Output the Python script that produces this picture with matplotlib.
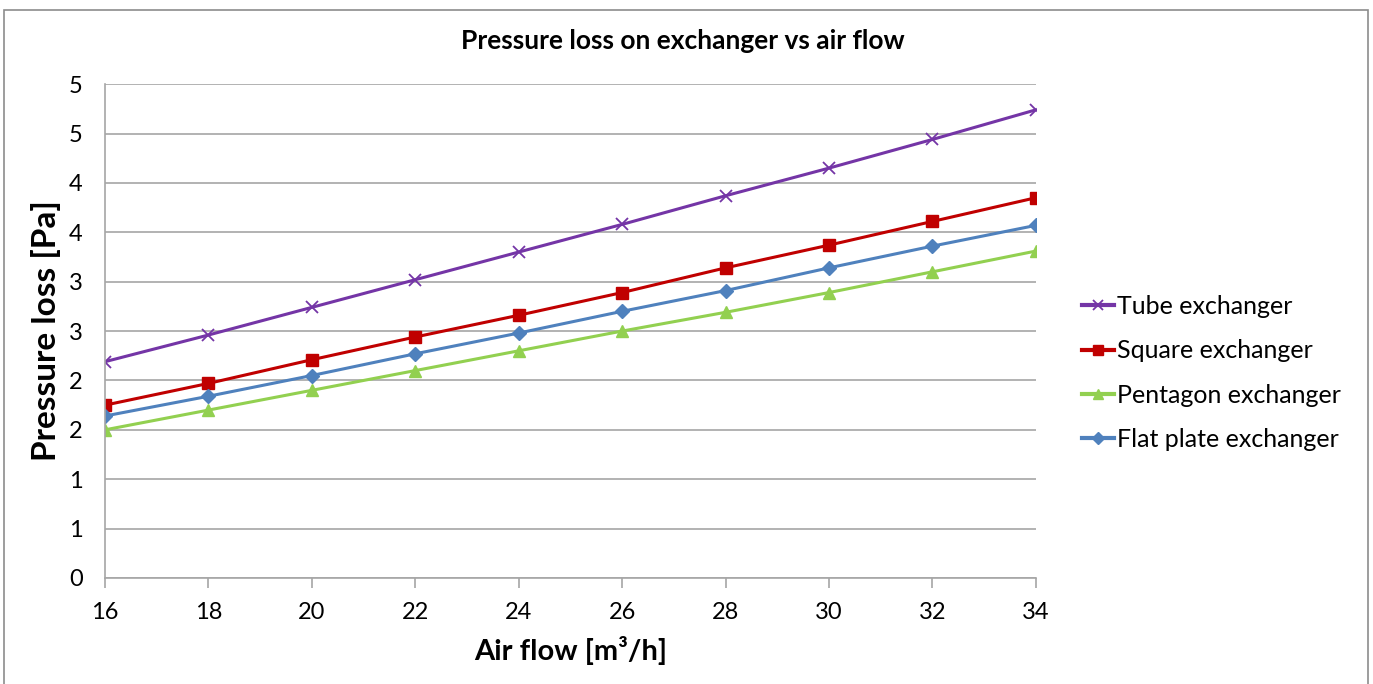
import numpy as np
import matplotlib.pyplot as plt
from matplotlib.ticker import FuncFormatter, MultipleLocator
from matplotlib.patches import Rectangle

plt.rcParams['font.family'] = ['Lato', 'DejaVu Sans']

# data
air_flow = [16, 18, 20, 22, 24, 26, 28, 30, 32, 34]
tube = [2.19, 2.46, 2.74, 3.02, 3.30, 3.58, 3.87, 4.15, 4.44, 4.74]
square = [1.75, 1.97, 2.21, 2.44, 2.66, 2.89, 3.14, 3.37, 3.61, 3.85]
pentagon = [1.50, 1.70, 1.90, 2.10, 2.30, 2.50, 2.69, 2.89, 3.10, 3.31]
flat_plate = [1.64, 1.84, 2.05, 2.27, 2.48, 2.70, 2.91, 3.14, 3.36, 3.57]

fig = plt.figure(figsize=(13.73, 6.84), dpi=100)
ax = fig.add_axes([0.0765, 0.155, 0.678, 0.722])

# outer chart border
fig.patches.append(Rectangle((0.003, -0.01), 0.993, 0.996, transform=fig.transFigure,
                             fill=False, edgecolor='#8c8c8c', linewidth=1.2))

ax.plot(air_flow, tube, color='#7435A6', marker='x', markersize=9, mew=1.3,
        linewidth=2.2, label='Tube exchanger')
ax.plot(air_flow, square, color='#C00000', marker='s', markersize=9,
        linewidth=2.2, label='Square exchanger')
ax.plot(air_flow, pentagon, color='#92D050', marker='^', markersize=9,
        linewidth=2.2, label='Pentagon exchanger')
ax.plot(air_flow, flat_plate, color='#4F81BD', marker='D', markersize=7,
        linewidth=2.2, label='Flat plate exchanger')

ax.set_xlim(16, 34)
ax.set_ylim(0, 5)
ax.set_xticks(air_flow)
ax.yaxis.set_major_locator(MultipleLocator(0.5))
ax.yaxis.set_major_formatter(FuncFormatter(lambda v, p: str(int(np.floor(v + 0.5)))))
ax.grid(axis='y', color='#a6a6a6', linewidth=1.2)
ax.set_axisbelow(True)

for s in ['top', 'right']:
    ax.spines[s].set_visible(False)
for s in ['left', 'bottom']:
    ax.spines[s].set_color('#a6a6a6')
    ax.spines[s].set_linewidth(1.2)
ax.tick_params(axis='x', direction='out', length=7, color='#a6a6a6', width=1.2,
               labelsize=17, pad=10)
ax.tick_params(axis='y', length=0, labelsize=17, pad=16)

fig.text(0.497, 0.94, 'Pressure loss on exchanger vs air flow', fontsize=19,
         fontweight='bold', ha='center', va='center')
ax.set_xlabel('Air flow [m³/h]', fontsize=21, fontweight='bold', labelpad=10)
ax.set_ylabel('Pressure loss [Pa]', fontsize=24, fontweight='bold', labelpad=6)

leg = ax.legend(loc='center left', bbox_to_anchor=(1.025, 0.415), frameon=False,
                fontsize=18, handlelength=1.3, handletextpad=0.1,
                labelspacing=0.85, markerscale=0.85)
for line in leg.get_lines():
    line.set_linewidth(3)

fig.savefig('out.png', dpi=100)
